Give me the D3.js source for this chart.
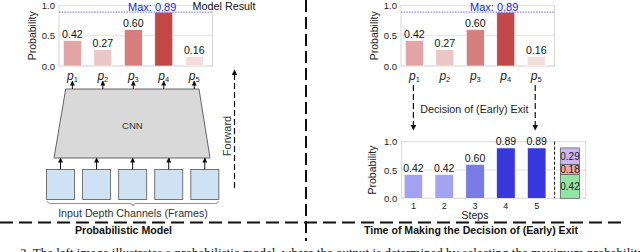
<!DOCTYPE html>
<html>
<head>
<meta charset="utf-8">
<script src="https://cdn.jsdelivr.net/npm/d3@7"></script>
<style>
  body { margin: 0; background: #fff; }
  svg { display: block; font-family: "Liberation Sans", Arial, sans-serif; }
</style>
</head>
<body>
<figure class="map" style="margin:0"></figure>
<script>
// chart data
var probLabels = ["1", "2", "3", "4", "5"];
var probs = [0.42, 0.27, 0.60, 0.89, 0.16];
var probColors = ["#e2a4a4", "#ebc6c6", "#d67f7f", "#c24747", "#f3dddd"];
var maxProb = 0.89;

var steps = ["1", "2", "3", "4", "5"];
var stepProbs = [0.42, 0.42, 0.60, 0.89, 0.89];
var stepColors = ["#a3a3f0", "#a3a3f0", "#7b7be6", "#3838dc", "#3838dc"];

var stackVals = [0.42, 0.18, 0.29];
var stackColors = ["#93e3a2", "#f3a3a3", "#cbb8f3"];

var yTicks = [0.0, 0.5, 1.0];

function wrapper(){

var w = 640, h = 252;

var svg = d3.select("figure.map")
            .append("svg")
            .attr("width", w)
            .attr("height", h)
            .attr("viewBox", `0 0 ${w} ${h}`);

// arrow heads
var defs = svg.append("defs");
defs.append("marker")
    .attr("id", "head")
    .attr("viewBox", "0 0 10 10")
    .attr("refX", 9).attr("refY", 5)
    .attr("markerWidth", 5).attr("markerHeight", 5)
    .attr("orient", "auto")
  .append("path")
    .attr("d", "M0,0 L10,5 L0,10 z")
    .attr("fill", "#111");

//////////////////////////////////////////////////////////////////////
////////////////// probability bar chart (top) ///////////////////////
//////////////////////////////////////////////////////////////////////
function probChart(xRange, showResult){
  var x = d3.scaleLinear().domain([-0.44, 4.6]).range(xRange);
  var y = d3.scaleLinear().domain([0, 1]).range([66, 5.5]);
  var bw = 0.59;
  var g = svg.append("g");

  // frame + grid
  g.append("rect")
    .attr("x", x(-0.44)).attr("y", y(1))
    .attr("width", x(4.6) - x(-0.44)).attr("height", y(0) - y(1))
    .attr("fill", "#fff").attr("stroke", "#d6d6d6").attr("stroke-width", 1);
  g.selectAll(".grid").data(yTicks).enter().append("line")
    .attr("x1", x(-0.44)).attr("x2", x(4.6))
    .attr("y1", d => y(d)).attr("y2", d => y(d))
    .attr("stroke", "#e2e2e2");

  var yAxis = d3.axisLeft(y).tickValues(yTicks).tickFormat(d3.format(".1f")).tickSize(0).tickPadding(4);
  g.append("g")
    .attr("transform", `translate(${x(-0.44)},0)`)
    .call(yAxis)
    .call(a => a.select(".domain").remove())
    .selectAll("text").attr("font-size", 9.5).attr("fill", "#222")
    .attr("font-family", "Liberation Sans, Arial, sans-serif");

  g.append("text")
    .attr("transform", `translate(${x(-0.44) - 27},${y(0.5)}) rotate(-90)`)
    .attr("text-anchor", "middle").attr("dy", "0.35em")
    .attr("font-size", 10.5).attr("fill", "#222")
    .text("Probability");

  g.selectAll(".bar").data(probs).enter().append("rect")
    .attr("x", (d, i) => x(i - bw / 2))
    .attr("width", x(bw) - x(0))
    .attr("y", d => y(d))
    .attr("height", d => y(0) - y(d))
    .attr("fill", (d, i) => probColors[i])
    .attr("stroke", "#fff").attr("stroke-width", 0.6);

  // value labels, the max one is shown by the Max text instead
  g.selectAll(".val").data(probs.filter(d => d !== maxProb)).enter().append("text")
    .attr("x", d => x(probs.indexOf(d))).attr("y", d => y(d) - 2.5)
    .attr("text-anchor", "middle").attr("font-size", 10.6).attr("fill", "#111")
    .text(d => d.toFixed(2));

  // max line
  g.append("line")
    .attr("x1", x(-0.44)).attr("x2", x(4.6))
    .attr("y1", y(maxProb)).attr("y2", y(maxProb))
    .attr("stroke", "#5a5aee").attr("stroke-width", 0.9)
    .attr("stroke-dasharray", "1.5,1.2");
  g.append("text")
    .attr("x", x(2.62)).attr("y", y(maxProb) - 1.5)
    .attr("text-anchor", "middle").attr("font-size", 11).attr("fill", "#2323f0")
    .text("Max: " + maxProb.toFixed(2));
  if(showResult){
    g.append("text")
      .attr("x", 192.5).attr("y", 10)
      .attr("font-size", 10.8).attr("fill", "#111")
      .text("Model Result");
  }

  // p_i labels
  var lab = g.selectAll(".plab").data(probLabels).enter().append("text")
    .attr("x", (d, i) => x(i)).attr("y", 79.5)
    .attr("text-anchor", "middle").attr("font-size", 12).attr("fill", "#222");
  lab.append("tspan").attr("font-style", "italic").text("p");
  lab.append("tspan").attr("font-size", 7.5).attr("dy", 2).text(d => d);

  return x;
}

var xl = probChart([59, 212.5], true);
var xr = probChart([401, 554.5], false);

//////////////////////////////////////////////////////////////////////
////////////////// CNN block + inputs (left) /////////////////////////
//////////////////////////////////////////////////////////////////////
var trap = {top: 89, bottom: 158, tl: 65.7, tr: 199, bl: 54, br: 210};
svg.append("path")
  .attr("d", `M${trap.tl},${trap.top} L${trap.tr},${trap.top} L${trap.br},${trap.bottom} L${trap.bl},${trap.bottom} Z`)
  .attr("fill", "#d9d9d9").attr("stroke", "#555").attr("stroke-width", 0.9);
svg.append("text")
  .attr("x", (trap.tl + trap.tr) / 2).attr("y", 126).attr("dy", "0.35em")
  .attr("text-anchor", "middle").attr("font-size", 9.5).attr("fill", "#333")
  .text("CNN");

// arrows CNN -> p_i
svg.selectAll(".upArrow").data(probs).enter().append("line")
  .attr("x1", (d, i) => xl(i)).attr("x2", (d, i) => xl(i))
  .attr("y1", trap.top).attr("y2", 81)
  .attr("stroke", "#111").attr("stroke-width", 1)
  .attr("marker-end", "url(#head)");

// input frames
var frameX = d3.scaleLinear().domain([0, 4]).range([60.5, 204.8]);
var fw = 28;
svg.selectAll(".frame").data(probLabels).enter().append("rect")
  .attr("x", (d, i) => frameX(i) - fw / 2).attr("y", 169.5)
  .attr("width", fw).attr("height", 30)
  .attr("fill", "#cfe2f3").attr("stroke", "#666").attr("stroke-width", 0.9);
svg.selectAll(".inArrow").data(probLabels).enter().append("line")
  .attr("x1", (d, i) => frameX(i)).attr("x2", (d, i) => frameX(i))
  .attr("y1", 169.5).attr("y2", trap.bottom)
  .attr("stroke", "#111").attr("stroke-width", 1)
  .attr("marker-end", "url(#head)");

// brace
var bx0 = 47.5, bx1 = 218.5, bm = 133, by = 201;
svg.append("path")
  .attr("d", `M${bx0},${by} q0,2.5 3,2.5 L${bm - 3},${by + 2.5} q3,0 3,2.5 q0,-2.5 3,-2.5 L${bx1 - 3},${by + 2.5} q3,0 3,-2.5`)
  .attr("fill", "none").attr("stroke", "#777").attr("stroke-width", 0.8);
svg.append("text")
  .attr("x", bm).attr("y", 213).attr("dy", "0.35em")
  .attr("text-anchor", "middle").attr("font-size", 10.7).attr("fill", "#333")
  .text("Input Depth Channels (Frames)");

// forward arrow
svg.append("line")
  .attr("x1", 234.5).attr("x2", 234.5).attr("y1", 188).attr("y2", 70)
  .attr("stroke", "#111").attr("stroke-width", 1.2)
  .attr("stroke-dasharray", "6,3")
  .attr("marker-end", "url(#head)");
svg.append("text")
  .attr("transform", "translate(227,136) rotate(-90)")
  .attr("text-anchor", "middle").attr("dy", "0.35em")
  .attr("font-size", 11).attr("fill", "#333")
  .text("Forward");

//////////////////////////////////////////////////////////////////////
////////////////// decision of early exit (right) ////////////////////
//////////////////////////////////////////////////////////////////////
[0, 4].forEach(function(i){
  svg.append("line")
    .attr("x1", xr(i) - 1).attr("x2", xr(i) - 1).attr("y1", 85).attr("y2", 130)
    .attr("stroke", "#111").attr("stroke-width", 1.2)
    .attr("stroke-dasharray", "6,3")
    .attr("marker-end", "url(#head)");
});
svg.append("text")
  .attr("x", (xr(0) + xr(4)) / 2 - 1).attr("y", 109.5).attr("dy", "0.35em")
  .attr("text-anchor", "middle").attr("font-size", 10.7).attr("fill", "#222")
  .text("Decision of (Early) Exit");

// steps chart
var xs = d3.scaleLinear().domain([-0.38, 5.59]).range([401.7, 585.7]);
var ys = d3.scaleLinear().domain([0, 1]).range([198.3, 141.7]);
var sw = 0.6;
var gs = svg.append("g");
gs.append("rect")
  .attr("x", xs(-0.38)).attr("y", ys(1))
  .attr("width", xs(5.59) - xs(-0.38)).attr("height", ys(0) - ys(1))
  .attr("fill", "#fff").attr("stroke", "#d6d6d6");
gs.selectAll(".grid").data(yTicks).enter().append("line")
  .attr("x1", xs(-0.38)).attr("x2", xs(5.59))
  .attr("y1", d => ys(d)).attr("y2", d => ys(d))
  .attr("stroke", "#e2e2e2");
gs.append("g")
  .attr("transform", `translate(${xs(-0.38)},0)`)
  .call(d3.axisLeft(ys).tickValues(yTicks).tickFormat(d3.format(".1f")).tickSize(0).tickPadding(4.5))
  .call(a => a.select(".domain").remove())
  .selectAll("text").attr("font-size", 9.5).attr("fill", "#222")
  .attr("font-family", "Liberation Sans, Arial, sans-serif");
gs.append("text")
  .attr("transform", `translate(${xs(-0.38) - 29},${ys(0.5)}) rotate(-90)`)
  .attr("text-anchor", "middle").attr("dy", "0.35em")
  .attr("font-size", 10.5).attr("fill", "#222")
  .text("Probability");

gs.selectAll(".bar").data(stepProbs).enter().append("rect")
  .attr("x", (d, i) => xs(i - sw / 2)).attr("width", xs(sw) - xs(0))
  .attr("y", d => ys(d)).attr("height", d => ys(0) - ys(d))
  .attr("fill", (d, i) => stepColors[i])
  .attr("stroke", "#fff").attr("stroke-width", 0.6);
gs.selectAll(".val").data(stepProbs).enter().append("text")
  .attr("x", (d, i) => xs(i)).attr("y", d => ys(d) - 2.5)
  .attr("text-anchor", "middle").attr("font-size", 10.5).attr("fill", "#111")
  .text(d => d.toFixed(2));
gs.selectAll(".xt").data(steps).enter().append("text")
  .attr("x", (d, i) => xs(i)).attr("y", 206).attr("dy", "0.35em")
  .attr("text-anchor", "middle").attr("font-size", 9).attr("fill", "#222")
  .text(d => d);
gs.append("text")
  .attr("x", xs(2)).attr("y", 215.5).attr("dy", "0.35em")
  .attr("text-anchor", "middle").attr("font-size", 10.5).attr("fill", "#222")
  .text("Steps");

// separator + stacked result
gs.append("line")
  .attr("x1", xs(4.58)).attr("x2", xs(4.58)).attr("y1", ys(1)).attr("y2", ys(0))
  .attr("stroke", "#111").attr("stroke-width", 1)
  .attr("stroke-dasharray", "3,2");
var stack = d3.cumsum(stackVals);
var sc = 5.08;
gs.selectAll(".stk").data(stackVals).enter().append("rect")
  .attr("x", xs(sc - 0.31)).attr("width", xs(0.62) - xs(0))
  .attr("y", (d, i) => ys(stack[i]))
  .attr("height", d => ys(0) - ys(d))
  .attr("fill", (d, i) => stackColors[i])
  .attr("stroke", "#555").attr("stroke-width", 0.7);
gs.selectAll(".stkv").data(stackVals).enter().append("text")
  .attr("x", xs(sc)).attr("y", (d, i) => ys(stack[i] - d / 2)).attr("dy", "0.35em")
  .attr("text-anchor", "middle").attr("font-size", 10).attr("fill", "#222")
  .text(d => d.toFixed(2));

//////////////////////////////////////////////////////////////////////
////////////////// dividers + titles /////////////////////////////////
//////////////////////////////////////////////////////////////////////
svg.append("line")
  .attr("x1", 306).attr("x2", 306).attr("y1", 0).attr("y2", 241)
  .attr("stroke", "#111").attr("stroke-width", 2).attr("stroke-dasharray", "12,5");
svg.append("line")
  .attr("x1", 0).attr("x2", 621).attr("y1", 222.5).attr("y2", 222.5)
  .attr("stroke", "#111").attr("stroke-width", 2).attr("stroke-dasharray", "13,6");

svg.append("text")
  .attr("x", 123.5).attr("y", 230.5).attr("dy", "0.35em")
  .attr("text-anchor", "middle").attr("font-size", 10.6).attr("font-weight", "bold").attr("fill", "#111")
  .text("Probabilistic Model");
svg.append("text")
  .attr("x", 471).attr("y", 230.5).attr("dy", "0.35em")
  .attr("text-anchor", "middle").attr("font-size", 10.6).attr("font-weight", "bold").attr("fill", "#111")
  .text("Time of Making the Decision of (Early) Exit");

// clipped caption line
svg.append("text")
  .attr("x", 20).attr("y", 257)
  .attr("font-family", "Liberation Serif, serif").attr("font-size", 13).attr("fill", "#111")
  .text("2. The left image illustrates a probabilistic model, where the output is determined by selecting the maximum probability");

}
window.onload = wrapper();
</script>
</body>
</html>
